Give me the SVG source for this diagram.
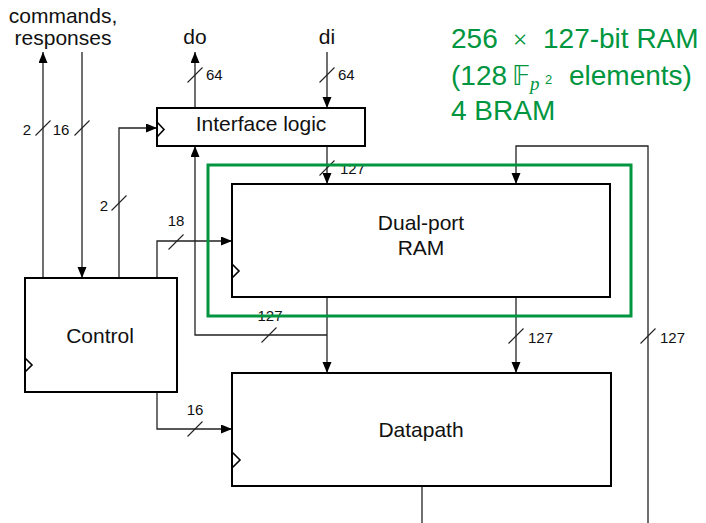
<svg xmlns="http://www.w3.org/2000/svg" width="706" height="523" viewBox="0 0 706 523">
<style>
.box{fill:#fff;stroke:#000;stroke-width:2}
.clk{fill:none;stroke:#000;stroke-width:1.6}
.w{fill:none;stroke:#222;stroke-width:1.3}
.sl{stroke:#222;stroke-width:1.1}
.t{font-family:"Liberation Sans",Arial,sans-serif;font-size:21px;fill:#111}
.s{font-family:"Liberation Sans",Arial,sans-serif;font-size:15px;fill:#111}
.g{font-family:"Liberation Sans",Arial,sans-serif;font-size:28px;fill:#009640}
</style>
<defs>
<marker id="ar" markerUnits="userSpaceOnUse" markerWidth="11" markerHeight="10" refX="11" refY="4.5" orient="auto">
<path d="M0,0 L11,4.5 L0,9 z" fill="#000"/>
</marker>
</defs>
<rect width="706" height="523" fill="#fff"/>

<g id="connectors">
<path class="w" d="M43,278 V52" marker-end="url(#ar)"/>
<path class="w" d="M82,52 V278" marker-end="url(#ar)"/>
<path class="w" d="M119,278 V128 H157" marker-end="url(#ar)"/>
<path class="w" d="M157,278 V241 H232" marker-end="url(#ar)"/>
<path class="w" d="M157,392 V429 H232" marker-end="url(#ar)"/>
<path class="w" d="M195,108 V52" marker-end="url(#ar)"/>
<path class="w" d="M327,52 V108" marker-end="url(#ar)"/>
<path class="w" d="M327,146 V184" marker-end="url(#ar)"/>
<path class="w" d="M327,297 V373" marker-end="url(#ar)"/>
<path class="w" d="M327,335 H195 V146" marker-end="url(#ar)"/>
<path class="w" d="M516,297 V373" marker-end="url(#ar)"/>
<path class="w" d="M648,523 V146 H516 V184" marker-end="url(#ar)"/>
<path class="w" d="M422,486 V523"/>
<g id="bus-widths">
<line class="sl" x1="35.5" y1="135.5" x2="50.5" y2="120.5"/>
<line class="sl" x1="74.5" y1="135.5" x2="89.5" y2="120.5"/>
<line class="sl" x1="111.5" y1="210.5" x2="126.5" y2="195.5"/>
<line class="sl" x1="168.5" y1="249.5" x2="183.5" y2="234.5"/>
<line class="sl" x1="187.5" y1="436.5" x2="202.5" y2="421.5"/>
<line class="sl" x1="187.5" y1="82.5" x2="202.5" y2="67.5"/>
<line class="sl" x1="319.5" y1="82.5" x2="334.5" y2="67.5"/>
<line class="sl" x1="319.5" y1="175.5" x2="334.5" y2="160.5"/>
<line class="sl" x1="261.5" y1="342.5" x2="276.5" y2="327.5"/>
<line class="sl" x1="508.5" y1="343.5" x2="523.5" y2="328.5"/>
<line class="sl" x1="640.5" y1="343.5" x2="655.5" y2="328.5"/>
<text class="s" x="27" y="135" text-anchor="middle">2</text>
<text class="s" x="61" y="135" text-anchor="middle">16</text>
<text class="s" x="104" y="211" text-anchor="middle">2</text>
<text class="s" x="176" y="226" text-anchor="middle">18</text>
<text class="s" x="195" y="415" text-anchor="middle">16</text>
<text class="s" x="206" y="80">64</text>
<text class="s" x="338" y="80">64</text>
<text class="s" x="340" y="174">127</text>
<text class="s" x="270" y="321" text-anchor="middle">127</text>
<text class="s" x="528" y="343">127</text>
<text class="s" x="660" y="343">127</text>
</g>
</g>

<g id="io-labels">
<text class="t" x="63" y="23" text-anchor="middle">commands,</text>
<text class="t" x="63" y="45" text-anchor="middle">responses</text>
<text class="t" x="195" y="44" text-anchor="middle">do</text>
<text class="t" x="327" y="44" text-anchor="middle">di</text>
</g>

<g id="interface">
<rect class="box" x="157" y="108" width="208" height="38"/>
<path class="clk" d="M157,122 L164,129.5 L157,137"/>
<text class="t" x="261" y="131" text-anchor="middle">Interface logic</text>
</g>

<g id="ram">
<rect class="box" x="232" y="184" width="378" height="113"/>
<path class="clk" d="M232,264 L239,271 L232,278"/>
<text class="t" x="421" y="230" text-anchor="middle">Dual-port</text>
<text class="t" x="421" y="255" text-anchor="middle">RAM</text>
</g>

<g id="control">
<rect class="box" x="25" y="278" width="152" height="114"/>
<path class="clk" d="M25,358 L32,365 L25,372"/>
<text class="t" x="100" y="343" text-anchor="middle">Control</text>
</g>

<g id="datapath">
<rect class="box" x="232" y="373" width="379" height="113"/>
<path class="clk" d="M232,452 L240,460 L232,468"/>
<text class="t" x="421" y="437" text-anchor="middle">Datapath</text>
</g>

<g id="ram-region">
<rect x="208" y="165" width="423" height="151" fill="none" stroke="#009640" stroke-width="3"/>
<text class="g" y="48"><tspan x="520" text-anchor="middle" font-family="Liberation Serif" font-size="26">×</tspan><tspan x="451">256</tspan><tspan x="543">127-bit RAM</tspan></text>
<text class="g" y="85"><tspan x="451">(128</tspan><tspan x="512" font-family="DejaVu Sans" font-size="27">𝔽</tspan><tspan x="530" y="90" font-family="Liberation Serif" font-style="italic" font-size="19">p</tspan><tspan x="545" y="84" font-size="13">2</tspan><tspan x="569" y="85">elements)</tspan></text>
<text class="g" x="451" y="120">4 BRAM</text>
</g>
</svg>
